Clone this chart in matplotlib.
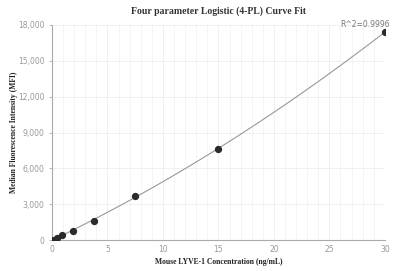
import numpy as np
import matplotlib.pyplot as plt

# standard curve points
conc = [0, 0.469, 0.938, 1.875, 3.75, 7.5, 15, 30]
mfi = [30, 210, 420, 800, 1580, 3700, 7650, 17400]
r2_label = "R^2=0.9996"

x_ticks = [0, 5, 10, 15, 20, 25, 30]
y_ticks = [0, 3000, 6000, 9000, 12000, 15000, 18000]

fig = plt.figure(figsize=(4.03, 2.71), dpi=100)
ax = fig.add_axes([0.129, 0.114, 0.826, 0.794])

# smooth fit line through the points
coef = np.polyfit(conc, mfi, 2)
xs = np.linspace(0, 30, 200)
ax.plot(xs, np.polyval(coef, xs), color='#999999', lw=0.8, zorder=2)
ax.scatter(conc, mfi, s=18, color='#2b2b2b', zorder=3)

ax.set_xlim(0, 30)
ax.set_ylim(0, 18000)
ax.set_xticks(x_ticks)
ax.set_yticks(y_ticks)
ax.set_xticks(np.arange(0, 31, 1), minor=True)
ax.set_yticklabels(['{:,}'.format(v) for v in y_ticks])
ax.grid(which='major', color='#eeeeee', lw=0.6)
ax.grid(which='minor', axis='x', color='#f2f2f2', lw=0.6)
ax.set_axisbelow(True)

for s in ['top', 'right']:
    ax.spines[s].set_visible(False)
for s in ['left', 'bottom']:
    ax.spines[s].set_color('#aaaaaa')
    ax.spines[s].set_linewidth(0.8)
ax.tick_params(axis='both', which='major', labelsize=5.5, colors='#999999', length=2, width=0.5)
ax.tick_params(axis='both', which='minor', length=0)
ax.tick_params(axis='x', which='major', length=0)

ax.text(0.865, mfi[-1] / 18000 + 0.015, r2_label, transform=ax.transAxes, ha='left',
        va='bottom', fontsize=5.5, color='#777777')

ax.set_title('Four parameter Logistic (4-PL) Curve Fit', fontsize=7, fontweight='bold',
             family='Liberation Serif', color='#333333', pad=8)
ax.set_xlabel('Mouse LYVE-1 Concentration (ng/mL)', fontsize=5.5, fontweight='bold',
              family='Liberation Serif', color='#222222')
ax.set_ylabel('Median Fluorescence Intensity (MFI)', fontsize=5.5, fontweight='bold',
              family='Liberation Serif', color='#222222')
ax.xaxis.set_label_coords(0.5, -0.085)
ax.yaxis.set_label_coords(-0.102, 0.5)

fig.savefig('out.png', dpi=100)
